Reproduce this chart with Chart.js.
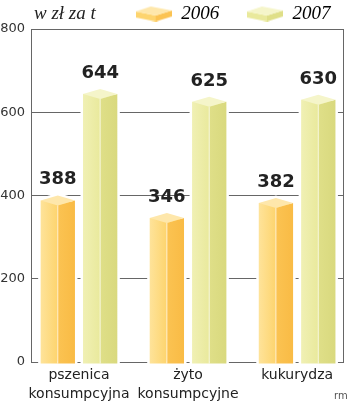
<!DOCTYPE html>
<html>
<head>
<meta charset="utf-8">
<script src="https://cdn.jsdelivr.net/npm/chart.js@4.4.1/dist/chart.umd.min.js"></script>
<style>
    body { margin: 0; background: #fff; }
    #wrap { position: relative; width: 350px; height: 404px; }
    #unit { position: absolute; left: 34px; top: 2px; font: italic 19px 'Liberation Serif', serif; color: #222; }
    #sig { position: absolute; left: 334px; top: 390px; font: 10px 'DejaVu Sans', sans-serif; color: #555; }
</style>
</head>
<body>
<div id="wrap">
    <canvas id="chart" width="350" height="404"></canvas>
    <span id="unit">w zł za t</span>
    <span id="sig">rm</span>
</div>
<script>
// Ceny zbóż - w zł za t

const CATEGORIES = [['pszenica', 'konsumpcyjna'], ['żyto', 'konsumpcyjne'], ['kukurydza']];
const SERIES = ['2006', '2007'];
const VALUES_2006 = [388, 346, 382];
const VALUES_2007 = [644, 625, 630];
const Y_TICKS = [0, 200, 400, 600, 800];

// colours per series: [left light, left, right, right dark, top]
const FACES = [
    ['#fee39a', '#fdd46e', '#fbc352', '#f9bb45', '#fee7ab'],
    ['#f0f0b4', '#e9e99c', '#dfdf88', '#d9d97e', '#f5f5ca'],
];
const CAP = 5;

function makeSwatch(f) {
    const c = document.createElement('canvas');
    c.width = 36; c.height = 16;
    const g = c.getContext('2d');
    const poly = (pts, col) => {
        g.beginPath();
        pts.forEach(([x, y], i) => i ? g.lineTo(x, y) : g.moveTo(x, y));
        g.closePath();
        g.fillStyle = col;
        g.fill();
    };
    poly([[0, 6], [0, 12], [20, 16], [20, 10]], f[1]);
    poly([[20, 10], [20, 16], [36, 11], [36, 5]], f[2]);
    poly([[0, 6], [15, 1], [36, 5], [20, 10]], f[4]);
    return c;
}
const SWATCHES = FACES.map(makeSwatch);

const box3d = {
    id: 'box3d',
    afterInit(chart) {
        // legend row sits tight above the frame
        const lg = chart.legend;
        const fit = lg.fit.bind(lg);
        lg.fit = () => { fit(); lg.height -= 4; };
    },
    beforeDatasetsDraw(chart) {
        const { ctx, chartArea: a } = chart;
        ctx.save();
        ctx.strokeStyle = '#666';
        ctx.lineWidth = 1;
        ctx.strokeRect(Math.round(a.left) + 0.5, Math.round(a.top) + 0.5,
            Math.round(a.right - a.left) - 1, Math.round(a.bottom - a.top));
        ctx.restore();
    },
    afterDatasetsDraw(chart) {
        const ctx = chart.ctx;
        chart.data.datasets.forEach((ds, di) => {
            const f = FACES[di];
            chart.getDatasetMeta(di).data.forEach((bar, i) => {
                const { x, y, base, width } = bar.getProps(['x', 'y', 'base', 'width'], true);
                const l = x - width / 2, r = x + width / 2, b = base + 2;
                ctx.save();
                ctx.beginPath();
                ctx.moveTo(l, y); ctx.lineTo(x, y - CAP); ctx.lineTo(r, y);
                ctx.lineTo(r, b); ctx.lineTo(l, b); ctx.closePath();
                ctx.strokeStyle = '#fff';
                ctx.lineWidth = 5;
                ctx.stroke();

                let g = ctx.createLinearGradient(l, 0, x, 0);
                g.addColorStop(0, f[0]); g.addColorStop(1, f[1]);
                ctx.fillStyle = g;
                ctx.fillRect(l, y, x - l, b - y);

                g = ctx.createLinearGradient(x, 0, r, 0);
                g.addColorStop(0, f[2]); g.addColorStop(1, f[3]);
                ctx.fillStyle = g;
                ctx.beginPath();
                ctx.moveTo(x, y + CAP); ctx.lineTo(r, y); ctx.lineTo(r, b); ctx.lineTo(x, b); ctx.closePath();
                ctx.fill();

                ctx.fillStyle = f[4];
                ctx.beginPath();
                ctx.moveTo(l, y); ctx.lineTo(x, y - CAP); ctx.lineTo(r, y); ctx.lineTo(x, y + CAP); ctx.closePath();
                ctx.fill();

                ctx.strokeStyle = 'rgba(255,255,255,0.7)';
                ctx.lineWidth = 1;
                ctx.beginPath();
                ctx.moveTo(x, y + CAP); ctx.lineTo(x, b);
                ctx.stroke();

                ctx.fillStyle = '#222';
                ctx.font = 'bold 18px "DejaVu Sans"';
                ctx.textAlign = 'center';
                ctx.textBaseline = 'alphabetic';
                ctx.fillText(String(ds.data[i].y), x, y - 16);
                ctx.restore();
            });
        });
    },
};

new Chart(document.getElementById('chart'), {
    type: 'bar',
    data: {
        datasets: [
            { label: SERIES[0], data: VALUES_2006.map((v, i) => ({ x: i, y: v })), backgroundColor: FACES[0][1] },
            { label: SERIES[1], data: VALUES_2007.map((v, i) => ({ x: i, y: v })), backgroundColor: FACES[1][1] },
        ],
    },
    options: {
        responsive: false,
        devicePixelRatio: 1,
        animation: false,
        categoryPercentage: 0.777,
        barPercentage: 0.81,
        layout: { padding: { top: 0, right: 6, bottom: 0, left: 0 } },
        plugins: {
            tooltip: { enabled: false },
            legend: {
                position: 'top',
                align: 'end',
                labels: {
                    usePointStyle: true,
                    pointStyleWidth: 36,
                    padding: 4,
                    color: '#222',
                    font: { family: 'Liberation Serif', style: 'italic', size: 19 },
                    generateLabels: (chart) => SERIES.map((s, i) => ({
                        text: s + (i === 0 ? '     ' : '  '),
                        fillStyle: FACES[i][1],
                        strokeStyle: FACES[i][1],
                        lineWidth: 0,
                        pointStyle: SWATCHES[i],
                        datasetIndex: i,
                    })),
                },
            },
        },
        scales: {
            x: {
                type: 'linear',
                offset: false,
                min: -0.44,
                max: 2.43,
                grid: { display: false, drawTicks: false },
                border: { display: false },
                afterBuildTicks: (scale) => { scale.ticks = [0, 1, 2].map(v => ({ value: v })); },
                afterFit: (scale) => { scale.height = 42; },
                ticks: {
                    padding: 4,
                    color: '#222',
                    font: { family: 'DejaVu Sans', size: 14, lineHeight: 1.35 },
                    maxRotation: 0,
                    autoSkip: false,
                    callback: (v) => CATEGORIES[v],
                },
            },
            y: {
                min: 0,
                max: 800,
                afterBuildTicks: (scale) => { scale.ticks = Y_TICKS.map(v => ({ value: v })); },
                afterFit: (scale) => { scale.width = 31; },
                grid: { color: '#666', drawTicks: false },
                border: { display: false },
                ticks: {
                    padding: 6,
                    color: '#333',
                    font: { family: 'DejaVu Sans', size: 13 },
                },
            },
        },
    },
    plugins: [box3d],
});
</script>
</body>
</html>
